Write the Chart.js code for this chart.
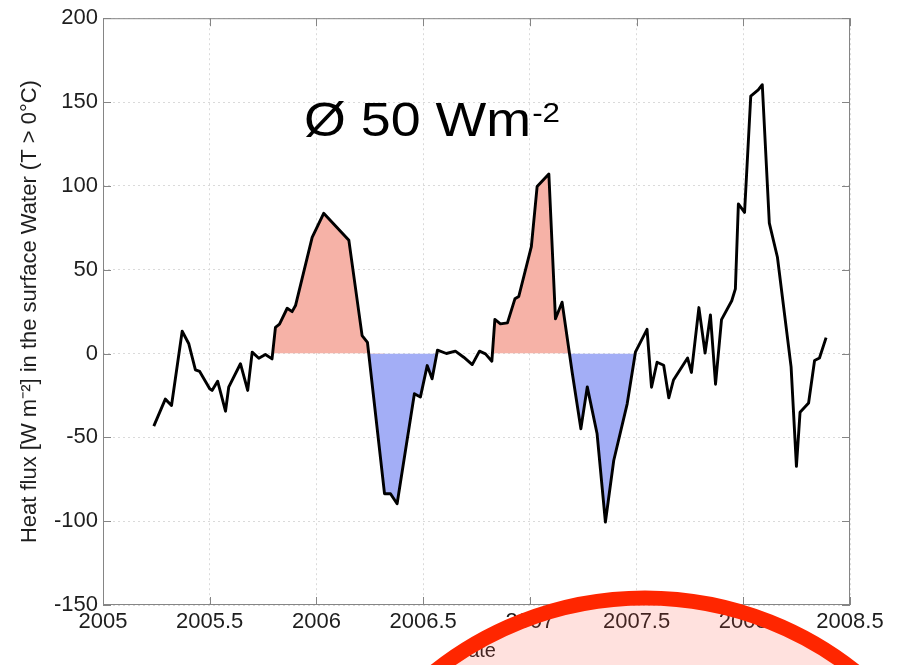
<!DOCTYPE html>
<html>
<head>
<meta charset="utf-8">
<script src="https://cdn.jsdelivr.net/npm/chart.js@4.4.1/dist/chart.umd.min.js"></script>
<style>
  html, body { margin: 0; padding: 0; background: #fff; }
  #wrap { width: 901px; height: 665px; position: relative; }
</style>
</head>
<body>
<div id="wrap"><canvas id="chart"></canvas></div>
<script>
// values (decimal year, W m-2)
const years = [
  2005.238, 2005.292, 2005.321, 2005.371, 2005.402, 2005.433, 2005.453, 2005.500, 2005.511, 2005.537,
  2005.574, 2005.589, 2005.644, 2005.678, 2005.699, 2005.730, 2005.761, 2005.792, 2005.808, 2005.827,
  2005.863, 2005.886, 2005.902, 2005.980, 2006.034, 2006.152, 2006.214, 2006.239, 2006.319, 2006.347,
  2006.378, 2006.417, 2006.459, 2006.487, 2006.519, 2006.542, 2006.567, 2006.609, 2006.651, 2006.690,
  2006.730, 2006.764, 2006.792, 2006.822, 2006.836, 2006.862, 2006.895, 2006.930, 2006.948, 2007.007,
  2007.034, 2007.089, 2007.120, 2007.151, 2007.198, 2007.239, 2007.269, 2007.315, 2007.354, 2007.393,
  2007.456, 2007.495, 2007.549, 2007.570, 2007.596, 2007.627, 2007.651, 2007.673, 2007.739, 2007.757,
  2007.792, 2007.821, 2007.846, 2007.870, 2007.898, 2007.946, 2007.963, 2007.977, 2008.006, 2008.035,
  2008.070, 2008.089, 2008.122, 2008.160, 2008.224, 2008.249, 2008.266, 2008.306, 2008.334, 2008.357,
  2008.388
];
const heatFlux = [
  -43.3, -27.2, -31.0, 13.3, 5.8, -9.7, -10.7, -21.0, -22.0, -16.5,
  -34.4, -20.1, -6.1, -22.0, 0.8, -2.8, -0.6, -3.2, 15.6, 17.5,
  27.0, 25.0, 28.6, 69.3, 83.6, 67.5, 10.7, 6.7, -83.6, -83.6,
  -89.6, -58.0, -24.0, -26.0, -7.2, -15.1, 2.0, 0.0, 1.4, -2.2,
  -6.6, 1.4, -0.2, -4.6, 20.3, 17.7, 18.3, 32.6, 34.0, 63.8,
  99.6, 107.1, 20.7, 30.6, -11.0, -44.9, -19.9, -47.9, -100.5, -63.8,
  -30.0, 1.0, 14.4, -20.1, -5.2, -7.0, -26.4, -15.8, -2.7, -11.3,
  27.4, 0.3, 23.0, -18.3, 20.2, 31.5, 38.6, 89.2, 84.2, 153.5,
  157.2, 160.3, 77.8, 57.4, -8.0, -67.3, -35.0, -29.5, -4.2, -2.7,
  9.5
];
// shaded periods
const warmSpans = [[2005.79, 2006.32], [2006.82, 2007.20]];
const coldSpans = [[2006.235, 2006.57], [2007.15, 2007.50]];

const xTicks = [2005, 2005.5, 2006, 2006.5, 2007, 2007.5, 2008, 2008.5];
const xTickLabels = ['2005', '2005.5', '2006', '2006.5', '2007', '2007.5', '2008', '2008.5'];
const yTicks = [-150, -100, -50, 0, 50, 100, 150, 200];

const warmColor = 'rgb(246,178,167)';
const coldColor = 'rgb(163,174,246)';
const font = '"Liberation Sans", Arial, Helvetica, sans-serif';

function pointsIn(span) {
  const pts = [];
  years.forEach((x, i) => {
    if (x >= span[0] && x <= span[1]) pts.push({ x, y: heatFlux[i] });
  });
  return pts;
}

const datasets = [{
  data: years.map((x, i) => ({ x, y: heatFlux[i] })),
  borderColor: '#000',
  borderWidth: 2.9,
  pointRadius: 0,
  fill: false,
  borderJoinStyle: 'round',
}];
warmSpans.forEach(s => datasets.push({
  data: pointsIn(s), borderWidth: 0, pointRadius: 0,
  fill: { target: { value: 0 }, above: warmColor, below: 'rgba(0,0,0,0)' },
}));
coldSpans.forEach(s => datasets.push({
  data: pointsIn(s), borderWidth: 0, pointRadius: 0,
  fill: { target: { value: 0 }, above: 'rgba(0,0,0,0)', below: coldColor },
}));

// box, inward ticks, annotation and the red circle
const decorations = {
  id: 'decorations',
  afterDatasetsDraw(chart) {
    const { ctx, chartArea: a, scales: { x, y } } = chart;
    ctx.save();
    ctx.strokeStyle = '#858585';
    ctx.lineWidth = 1;
    ctx.strokeRect(a.left + 0.5, a.top + 0.5, a.right - a.left - 1, a.bottom - a.top - 1);
    ctx.beginPath();
    xTicks.forEach(v => {
      const px = Math.round(x.getPixelForValue(v)) + 0.5;
      ctx.moveTo(px, a.bottom); ctx.lineTo(px, a.bottom - 8);
      ctx.moveTo(px, a.top); ctx.lineTo(px, a.top + 8);
    });
    yTicks.forEach(v => {
      const py = Math.round(y.getPixelForValue(v)) + 0.5;
      ctx.moveTo(a.left, py); ctx.lineTo(a.left + 8, py);
      ctx.moveTo(a.right, py); ctx.lineTo(a.right - 8, py);
    });
    ctx.stroke();
    ctx.restore();
  },
  afterDraw(chart) {
    const { ctx } = chart;
    ctx.save();
    ctx.fillStyle = '#000';
    ctx.textBaseline = 'alphabetic';
    ctx.translate(304, 0);
    ctx.scale(1.12, 1);
    ctx.font = '48px ' + font;
    const main = '\u00D8 50 Wm';
    ctx.fillText(main, 0, 136);
    const w = ctx.measureText(main).width;
    ctx.font = '28px ' + font;
    ctx.fillText('-2', w + 1, 122);
    ctx.restore();

    ctx.save();
    ctx.beginPath();
    ctx.arc(645, 936, 338, 0, Math.PI * 2);
    ctx.fillStyle = 'rgba(255,70,50,0.16)';
    ctx.fill();
    ctx.lineWidth = 15;
    ctx.strokeStyle = 'rgb(255,38,0)';
    ctx.stroke();
    ctx.restore();
  },
};

new Chart(document.getElementById('chart'), {
  type: 'line',
  data: { datasets },
  plugins: [decorations],
  options: {
    responsive: true,
    maintainAspectRatio: false,
    animation: false,
    layout: { padding: { top: 17, right: 51, left: 0, bottom: 0 } },
    plugins: { legend: { display: false }, tooltip: { enabled: false } },
    scales: {
      x: {
        type: 'linear', min: 2005, max: 2008.5,
        afterBuildTicks: s => { s.ticks = xTicks.map(value => ({ value })); },
        afterFit: s => { s.height = 60; },
        grid: { color: '#dadada', drawTicks: false },
        border: { display: false, dash: [2, 3] },
        ticks: {
          padding: 4, color: '#1e1e1e', font: { family: font, size: 22 },
          maxRotation: 0, autoSkip: false,
          callback: (v, i) => xTickLabels[i],
        },
        title: {
          display: true, text: 'date', color: '#1e1e1e',
          font: { family: font, size: 20 }, padding: { top: 0, bottom: 2 },
        },
      },
      y: {
        min: -150, max: 200,
        afterBuildTicks: s => { s.ticks = yTicks.map(value => ({ value })); },
        afterFit: s => { s.width = 103; },
        grid: { color: '#dadada', drawTicks: false },
        border: { display: false, dash: [2, 3] },
        ticks: {
          padding: 5, color: '#1e1e1e', font: { family: font, size: 22 },
          callback: v => String(v),
        },
        title: {
          display: true, text: 'Heat flux [W m\u207B\u00B2] in the surface Water (T > 0\u00B0C)',
          color: '#1e1e1e', font: { family: font, size: 22 }, padding: { top: 17, bottom: 0 },
        },
      },
    },
  },
});
</script>
</body>
</html>
